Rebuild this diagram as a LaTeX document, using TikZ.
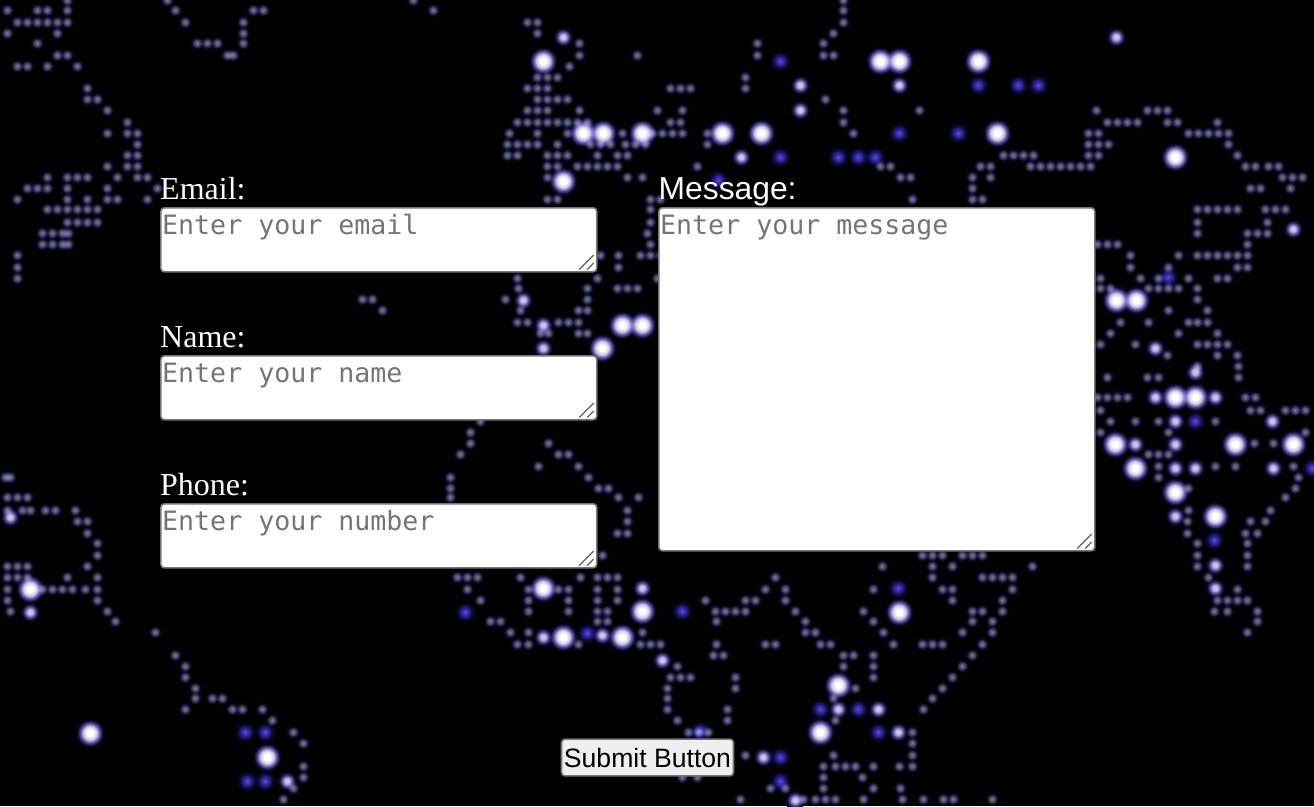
\documentclass[tikz,border=0pt]{standalone}
\usepackage{fontspec}
\setmainfont{Liberation Serif}
\setsansfont{Liberation Sans}
\setmonofont{DejaVu Sans Mono}
\usetikzlibrary{calc,positioning}
\definecolor{HintGray}{HTML}{757575}
\definecolor{EdgeGray}{HTML}{767676}
\definecolor{ButtonFill}{HTML}{EFEFEF}
\definecolor{Haze}{HTML}{0A0830}
\definecolor{DimDot}{HTML}{7A7894}
\definecolor{MidDot}{HTML}{CFCCEE}
\definecolor{RoyalDot}{HTML}{4030C8}
\definecolor{Lilac}{HTML}{8478E0}
\pgfdeclareradialshading{dimglow}{\pgfpointorigin}{color(0bp)=(DimDot); color(10bp)=(DimDot!62!black); color(18bp)=(Haze); color(25bp)=(black); color(50bp)=(black)}
\pgfdeclareradialshading{midglow}{\pgfpointorigin}{color(0bp)=(MidDot); color(6bp)=(MidDot!80!Lilac); color(13bp)=(Lilac!60!black); color(19bp)=(Haze); color(25bp)=(black); color(50bp)=(black)}
\pgfdeclareradialshading{brightglow}{\pgfpointorigin}{color(0bp)=(white); color(5bp)=(white); color(11bp)=(MidDot); color(16bp)=(Lilac!70!black); color(21bp)=(Haze); color(25bp)=(black); color(50bp)=(black)}
\pgfdeclareradialshading{royalglow}{\pgfpointorigin}{color(0bp)=(RoyalDot!85!white); color(8bp)=(RoyalDot!80!black); color(17bp)=(Haze); color(25bp)=(black); color(50bp)=(black)}
\newcommand{\resizegrip}[1]{%
  \draw[gripline] ($(#1.south east)+(-18.5,-3)$) -- ($(#1.south east)+(-4,-17.5)$);
  \draw[gripline] ($(#1.south east)+(-10.5,-3)$) -- ($(#1.south east)+(-4,-9.5)$);
}
\begin{document}
\begin{tikzpicture}[x=1pt,y=-1pt,
    dimdot/.style={shading=dimglow,blend mode=screen},
    middot/.style={shading=midglow,blend mode=screen},
    brightdot/.style={shading=brightglow,blend mode=screen},
    royaldot/.style={shading=royalglow,blend mode=screen},
    fieldbox/.style={draw=EdgeGray,line width=1.6pt,fill=white,rounded corners=3.5pt,
                     minimum width=436pt,anchor=north west,inner sep=0pt},
    shortbox/.style={fieldbox,minimum height=64pt},
    fieldlabel/.style={text=white,anchor=base west,inner sep=0pt,font=\fontsize{32}{36}\selectfont},
    hint/.style={text=HintGray,anchor=base west,inner sep=0pt,font=\ttfamily\fontsize{26.6}{30}\selectfont},
    gripline/.style={draw=black!62,line width=1.2pt},
    sendbutton/.style={draw=EdgeGray,line width=1.6pt,fill=ButtonFill,rounded corners=3.5pt,
                       minimum width=172pt,minimum height=36.8pt,inner sep=0pt,text=black,
                       font=\sffamily\fontsize{26.6}{30}\selectfont}]
  \fill[black,use as bounding box] (0,0) rectangle (1314,806);
  % faint city lights, row by row
  \foreach \py/\xlist in {
      0/{67,167,413,843},
      10/{7,37,47,67,175,253,263,433,843},
      22/{17,27,37,47,57,67,185,243,527,537,843},
      33/{7,57,243,537,833},
      43/{37,197,207,217,243,579,757,823},
      55/{57,67,227,233,579,637,757,823,833},
      66/{17,27,47,77,569},
      77/{537,547,557,745},
      88/{87,527,537,547,670,680,690,745},
      99/{87,97,537,547,557,567,825},
      110/{107,527,537,547,579,657,682,843,919,1096,1147,1157,1167},
      122/{127,517,527,537,547,557,567,577,587,670,680,843,1107,1117,1127,1137,1167,1177,1217},
      133/{107,127,137,509,537,567,622,652,662,672,682,707,853,1088,1098,1188,1198,1208,1218,1228},
      144/{137,507,517,527,537,557,590,600,610,625,635,645,707,1088,1098,1108,1228},
      155/{127,137,507,517,547,557,567,597,617,627,1003,1013,1023,1033,1088,1098,1237},
      166/{107,127,137,547,557,577,587,597,607,617,697,880,890,980,990,1030,1040,1050,1060,1070,1080,1090,1245,1255,1268,1278},
      177/{47,67,77,87,117,137,147,547,627,642,900,910,972,990,1282,1292,1302},
      188/{27,37,47,67,107,157,972,1250,1260,1290},
      199/{17,67,87,107,117,147,547,557,650,660,912,972,982},
      209/{47,57,67,77,87,97,650,1197,1207,1217,1227,1237,1265,1275,1285},
      222/{67,77,87,97,650,1197,1267},
      233/{42,52,62,68,647,1197,1247,1257,1267},
      244/{42,52,62,68,650,1097,1107,1117,1247},
      255/{17,600,618,640,650,660,1130,1178,1197,1207,1217,1227,1237,1247},
      267/{17,618,1130,1168,1237,1247},
      278/{17,517,597,657,1100,1140,1158,1188,1217,1227},
      288/{518,587,617,627,637,1100,1110,1148,1158,1168,1178,1197},
      299/{362,372,505,587,1197},
      310/{382,520,578,587,1168,1207},
      322/{517,527,558,568,578,1120,1148,1188,1197,1207},
      333/{540,548,578,587,1110,1178,1217},
      344/{1100,1135,1197,1207,1217,1227},
      355/{1167,1217,1237},
      366/{1197,1238},
      377/{1107,1147,1158,1238},
      397/{1097,1107,1117,1127,1245,1255},
      410/{1100,1250,1260,1285,1295,1305},
      421/{480,1110,1135,1158,1215},
      432/{470,1100,1168,1305},
      443/{470,548,1254,1273},
      454/{460,558,568,1148,1158,1168},
      466/{538,578,1158,1215,1235,1293},
      477/{5,10,450,588,1158,1298},
      488/{450,598,608,1188,1295},
      497/{7,17,27,450,618,638,1285},
      510/{7,22,30,45,55,75,627,1188,1270},
      521/{77,87,627,1187,1265,1250},
      533/{87,617,627,1187,1245,1257},
      543/{97,1197,1247},
      555/{97,602,1197,1247,922,932,942,962,972,982},
      566/{7,17,27,87,882,932,952,1032,1197,1247},
      577/{7,17,27,67,97,457,467,477,520,580,597,607,617,775,932,982,992,1002,1012,1208},
      589/{7,42,52,62,72,85,97,467,528,558,568,597,617,765,785,873,942,952,1012,1237},
      600/{7,97,480,528,568,597,617,705,745,755,785,952,1002,1217,1227,1237,1247},
      611/{10,107,528,568,597,607,715,725,735,745,795,863,972,982,1002,1214,1227,1257},
      621/{115,490,500,597,607,716,805,873,972,992,1257},
      632/{155,510,528,642,805,815,883,962,992,1247},
      644/{517,528,578,640,650,660,716,765,775,820,830,893,922,932,942,982},
      655/{175,713,723,843,853,873,972},
      666/{185,677,843,873,962},
      677/{185,670,680,690,735,873,952},
      688/{195,667,735,855,942},
      698/{195,212,222,667,833,932},
      709/{185,232,242,262,667,727,923},
      720/{272,677,727,835},
      732/{293,688,698,708,912},
      743/{303,912},
      755/{727,745,833,912},
      766/{303,823,835,845,855,873,899,912},
      777/{303,682,697,823,862},
      788/{293,770,785,823,873,900},
      799/{283,740,803,815,825,835,863,902,923,943,953,992}}
    {\foreach \px in \xlist {\shade[dimdot] (\px,\py) circle (7pt);}}
  % stronger lights
  \foreach \px/\py in {563/37,800/85,800/110,1116/37,899/85,1293/229,741/157,1155/348,
      523/300,543/325,1155/397,1215/397,1272/421,1135/444,1175/421,1175/444,1175/468,
      1195/372,1195/468,1273/468,1175/516,1215/565,1215/588,10/517,30/612,287/781,
      543/348,662/660,543/637,602/635,838/709,878/709,898/732,763/757,795/800,642/588}
    {\shade[middot] (\px,\py) circle (10.5pt);}
  \foreach \px/\py in {543/61,583/133,603/133,642/133,722/133,761/133,880/61,899/61,978/61,
      997/133,1175/157,563/181,622/325,642/325,602/348,1116/300,1136/300,1175/397,1195/397,
      1115/444,1235/444,1293/444,1135/468,1175/492,1215/516,30/589,90/733,267/757,
      543/588,642/611,563/637,622/637,899/612,838/685,820/732}
    {\shade[brightdot] (\px,\py) circle (15pt);}
  \foreach \px/\py in {780/61,780/157,838/157,858/157,875/157,899/133,958/133,718/180,
      978/85,1018/85,1038/85,1168/277,1195/421,1312/468,1214/540,465/612,682/611,587/633,
      898/588,858/709,820/709,878/732,780/757,780/781,245/732,265/732,247/781,265/781,700/731}
    {\shade[royaldot] (\px,\py) circle (11pt);}
  % form fields
  \node[shortbox] (emailbox) at (160,207) {};
  \node[shortbox] (namebox) at (160,355) {};
  \node[shortbox] (phonebox) at (160,503) {};
  \node[fieldbox,minimum height=343pt] (messagebox) at (658,207) {};
  \foreach \boxname in {emailbox,namebox,phonebox,messagebox}{\resizegrip{\boxname}}
  \node[fieldlabel] (emaillabel) at ($(emailbox.north west)+(0,-8)$) {Email:};
  \node[fieldlabel] (namelabel) at ($(namebox.north west)+(0,-8)$) {Name:};
  \node[fieldlabel] (phonelabel) at ($(phonebox.north west)+(0,-8)$) {Phone:};
  \node[fieldlabel,font=\sffamily\fontsize{31.8}{36}\selectfont] (messagelabel) at ($(messagebox.north west)+(0.5,-8)$) {Message:};
  \node[hint] (emailhint) at ($(emailbox.north west)+(2,27)$) {Enter your email};
  \node[hint] (namehint) at ($(namebox.north west)+(2,27)$) {Enter your name};
  \node[hint] (phonehint) at ($(phonebox.north west)+(2,27)$) {Enter your number};
  \node[hint] (messagehint) at ($(messagebox.north west)+(2,27)$) {Enter your message};
  \node[sendbutton] (submit) at (647.5,757.5) {Submit Button};
\end{tikzpicture}
\end{document}
